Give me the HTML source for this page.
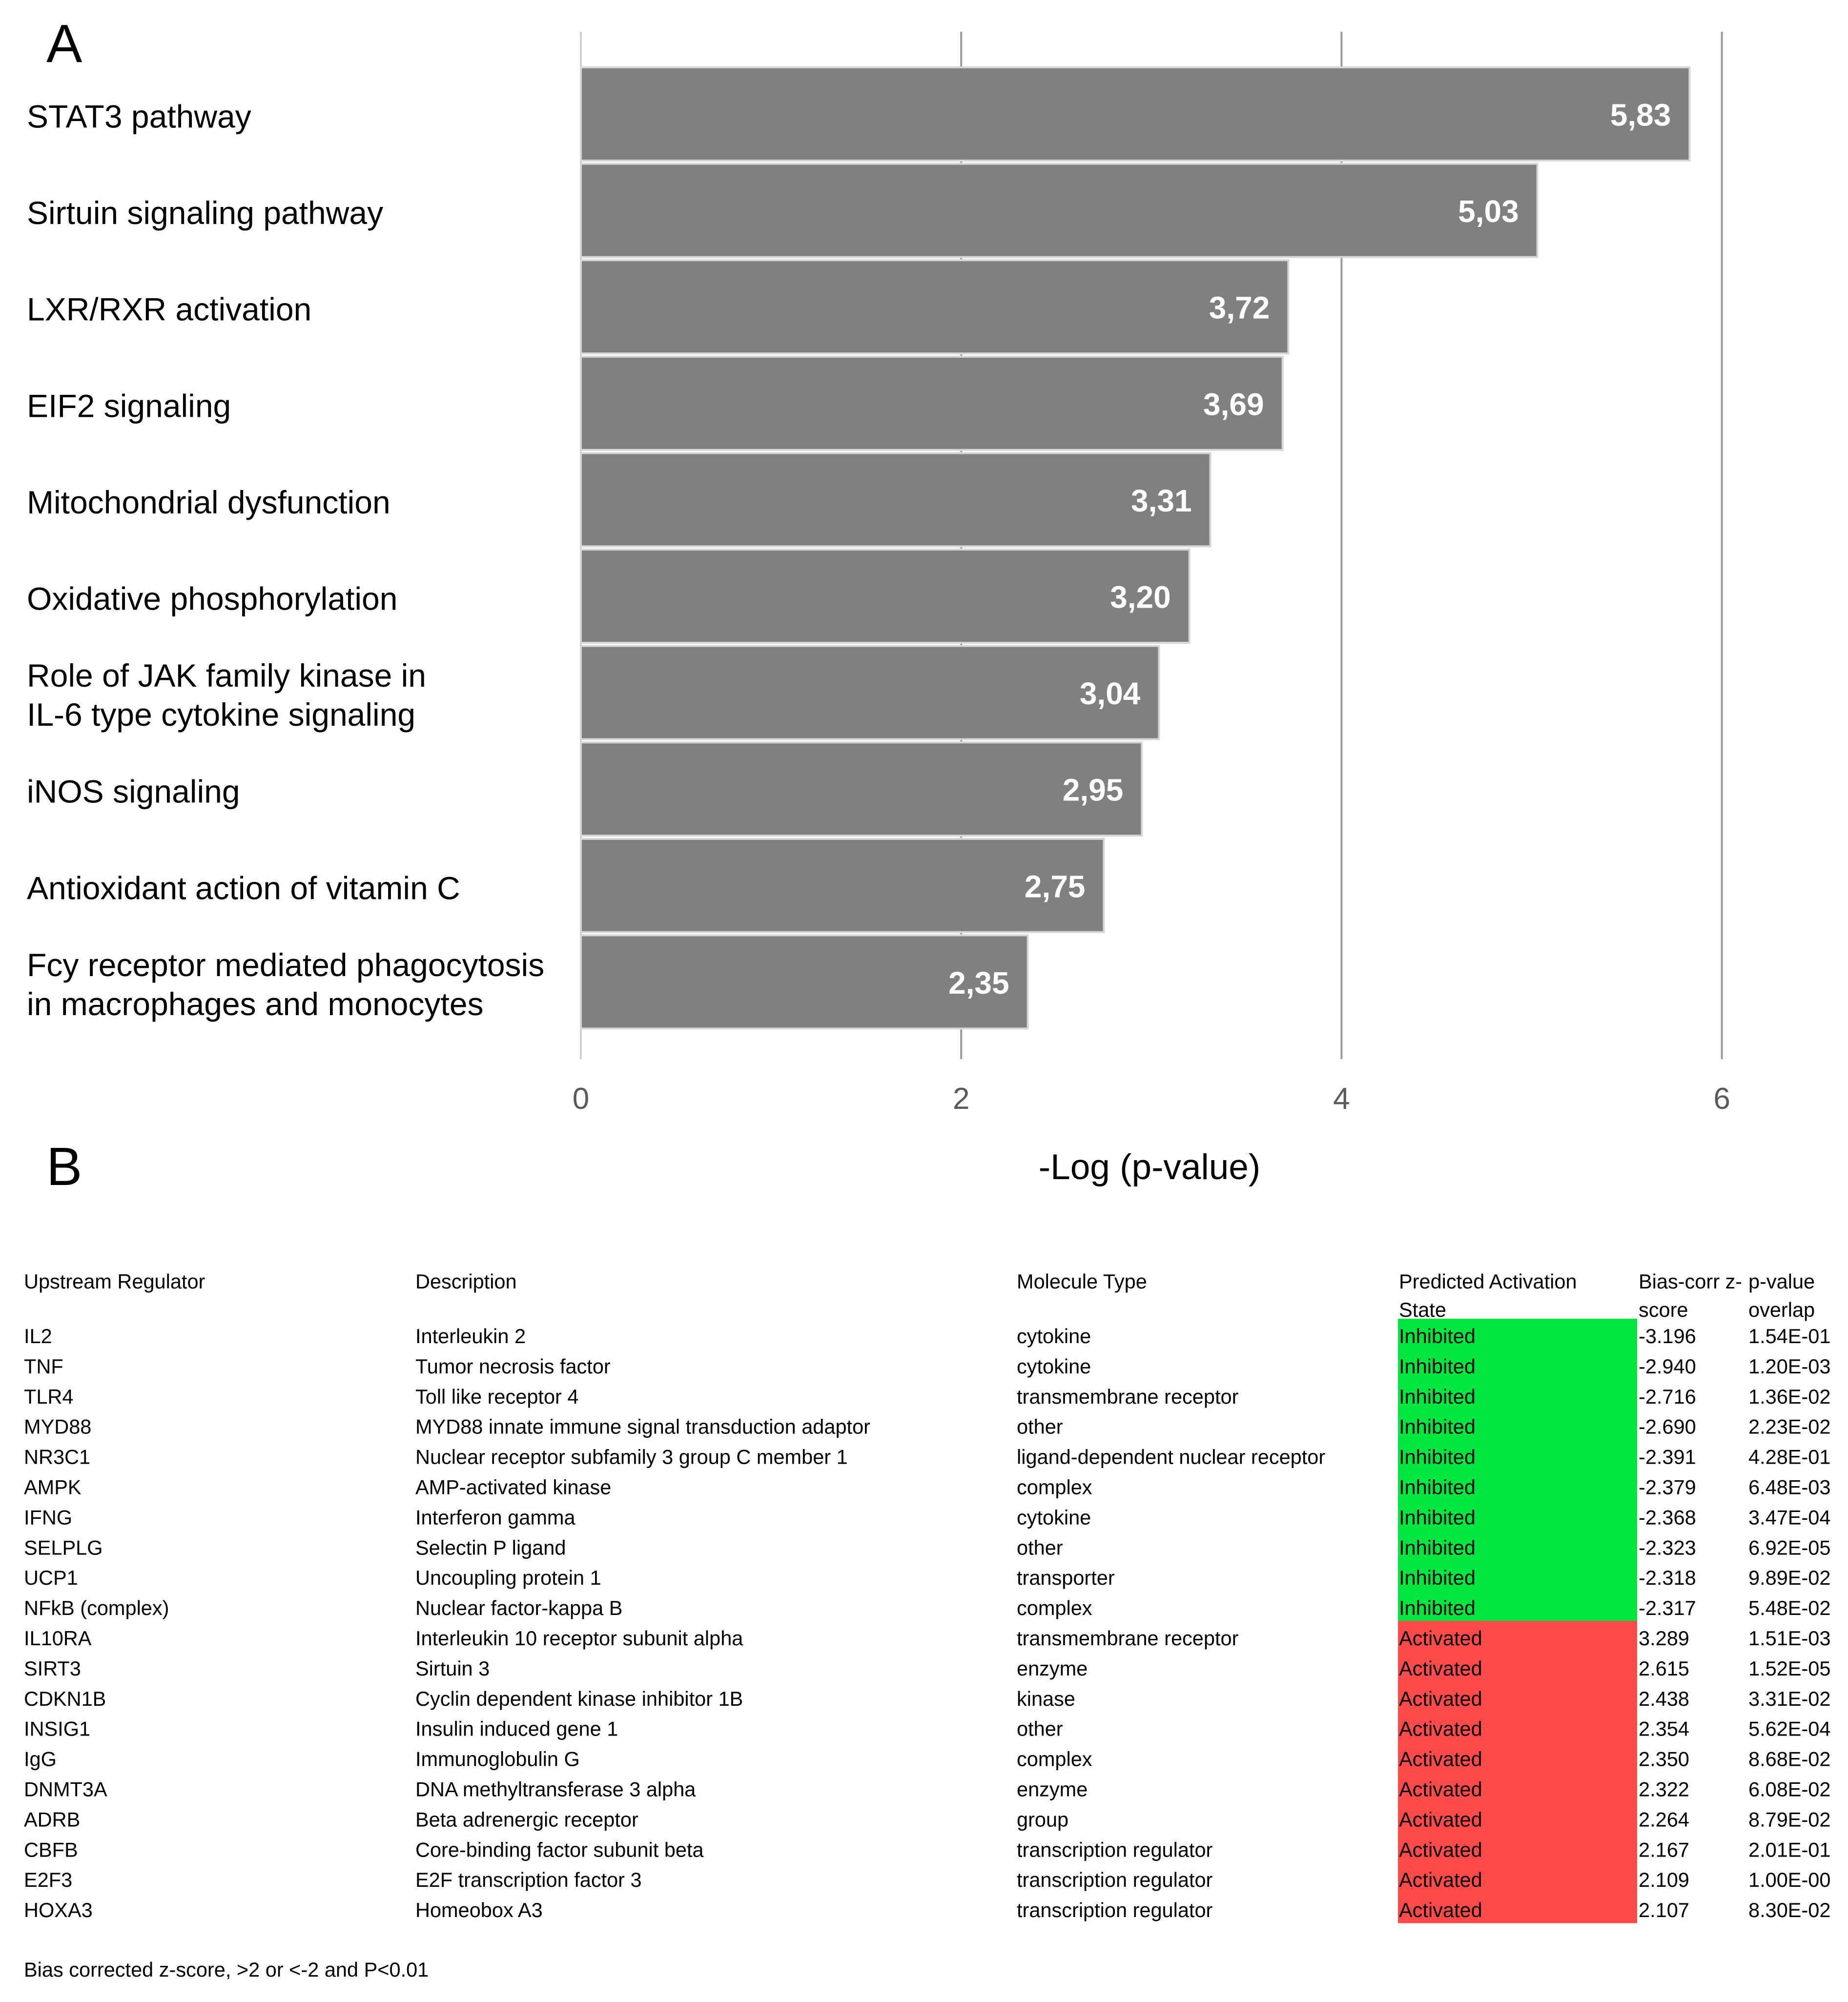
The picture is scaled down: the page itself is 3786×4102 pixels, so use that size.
<!DOCTYPE html>
<html><head><meta charset="utf-8"><style>
html,body{margin:0;padding:0;background:#fff}
body{width:3786px;height:4102px;position:relative;overflow:hidden}
svg{position:absolute;left:0;top:0}
</style></head>
<body>
<svg id="chart" width="3786" height="4102" viewBox="0 0 3786 4102" xmlns="http://www.w3.org/2000/svg">
<text x="95" y="127" font-family="Liberation Sans, sans-serif" font-size="110" fill="#000">A</text>
<text x="95" y="2428" font-family="Liberation Sans, sans-serif" font-size="110" fill="#000">B</text>
<g id="grid"></g><g id="bars"></g><g id="labels"></g><g id="ticks"></g>
<text x="2355" y="2416" text-anchor="middle" font-family="Liberation Sans, sans-serif" font-size="73" fill="#000">-Log (p-value)</text>
<g id="table"></g>
</svg>
<script>
const categories = [["STAT3 pathway"],["Sirtuin signaling pathway"],["LXR/RXR activation"],["EIF2 signaling"],["Mitochondrial dysfunction"],["Oxidative phosphorylation"],["Role of JAK family kinase in","IL-6 type cytokine signaling"],["iNOS signaling"],["Antioxidant action of vitamin C"],["Fcy receptor mediated phagocytosis","in macrophages and monocytes"]];
const values = [5.83,5.03,3.72,3.69,3.31,3.20,3.04,2.95,2.75,2.35];
const valueLabels = ["5,83","5,03","3,72","3,69","3,31","3,20","3,04","2,95","2,75","2,35"];
const tickValues = [0,2,4,6];
const tickLabels = ["0","2","4","6"];

const regulators = ["IL2","TNF","TLR4","MYD88","NR3C1","AMPK","IFNG","SELPLG","UCP1","NFkB (complex)","IL10RA","SIRT3","CDKN1B","INSIG1","IgG","DNMT3A","ADRB","CBFB","E2F3","HOXA3"];
const descriptions = ["Interleukin 2","Tumor necrosis factor","Toll like receptor 4","MYD88 innate immune signal transduction adaptor","Nuclear receptor subfamily 3 group C member 1","AMP-activated kinase","Interferon gamma","Selectin P ligand","Uncoupling protein 1","Nuclear factor-kappa B","Interleukin 10 receptor subunit alpha","Sirtuin 3","Cyclin dependent kinase inhibitor 1B","Insulin induced gene 1","Immunoglobulin G","DNA methyltransferase 3 alpha","Beta adrenergic receptor","Core-binding factor subunit beta","E2F transcription factor 3","Homeobox A3"];
const molTypes = ["cytokine","cytokine","transmembrane receptor","other","ligand-dependent nuclear receptor","complex","cytokine","other","transporter","complex","transmembrane receptor","enzyme","kinase","other","complex","enzyme","group","transcription regulator","transcription regulator","transcription regulator"];
const states = ["Inhibited","Inhibited","Inhibited","Inhibited","Inhibited","Inhibited","Inhibited","Inhibited","Inhibited","Inhibited","Activated","Activated","Activated","Activated","Activated","Activated","Activated","Activated","Activated","Activated"];
const zscores = ["-3.196","-2.940","-2.716","-2.690","-2.391","-2.379","-2.368","-2.323","-2.318","-2.317","3.289","2.615","2.438","2.354","2.350","2.322","2.264","2.167","2.109","2.107"];
const pvalues = ["1.54E-01","1.20E-03","1.36E-02","2.23E-02","4.28E-01","6.48E-03","3.47E-04","6.92E-05","9.89E-02","5.48E-02","1.51E-03","1.52E-05","3.31E-02","5.62E-04","8.68E-02","6.08E-02","8.79E-02","2.01E-01","1.00E-00","8.30E-02"];

const NS="http://www.w3.org/2000/svg";
function mk(tag, attrs, parent){const e=document.createElementNS(NS,tag);for(const k in attrs)e.setAttribute(k,attrs[k]);parent.appendChild(e);return e;}
const X0=1190, UNIT=389.6, TOP=138, STEP=197.6, BH=191;
const xs=v=>X0+v*UNIT;
const yb=i=>TOP+i*STEP;
const grid=document.getElementById('grid'), barsG=document.getElementById('bars'), labG=document.getElementById('labels'), tickG=document.getElementById('ticks');
tickValues.forEach((t,i)=>{
  const l=mk('line',{x1:xs(t),x2:xs(t),y1:65,y2:2170,stroke:i==0?'#d0d0d0':'#9a9a9a','stroke-width':4},grid);
  
  
  const tx=mk('text',{x:xs(t),y:2272,'text-anchor':'middle','font-family':'Liberation Sans, sans-serif','font-size':62,fill:'#595959'},tickG);
  tx.textContent=tickLabels[i];
  
  
});
values.forEach((v,i)=>{
  const y=yb(i);
  const r=mk('rect',{x:X0,y:y,width:xs(v)-X0,height:BH,fill:'#808080',stroke:'#d6d6d6','stroke-width':4},barsG);
  
  
  const t=mk('text',{x:xs(v)-38,y:y+BH/2+24,'text-anchor':'end','font-family':'Liberation Sans, sans-serif','font-size':64,'font-weight':'bold',fill:'#fff'},barsG);
  t.textContent=valueLabels[i];
  
  
  const lines=categories[i];
  lines.forEach((s,j)=>{
    const off=lines.length==1?28:(j==0?-12:68);
    const c=mk('text',{x:55,y:y+BH/2+off,'font-family':'Liberation Sans, sans-serif','font-size':66,fill:'#000'},labG);
    c.textContent=s;
    
    
  });
});
const tb=document.getElementById('table');
const cols=[47,849,2081,2864,3355,3580];
const FS=41.5, RT=2702, RS=61.9;
function txt(x,y,s,name){const t=mk('text',{x:x,y:y,'font-family':'Liberation Sans, sans-serif','font-size':FS,fill:'#000'},tb);t.textContent=s;return t;}
const hdr=[["Upstream Regulator"],["Description"],["Molecule Type"],["Predicted Activation","State"],["Bias-corr z-","score"],["p-value","overlap"]];
hdr.forEach((h,c)=>h.forEach((s,j)=>txt(cols[c]+2,2640+j*58,s,'column-header')));
regulators.forEach((r,i)=>{
  const top=RT+i*RS;
  const cell=mk('rect',{x:2864,y:top,width:490,height:RS+0.5,fill:states[i]=='Inhibited'?'#00e840':'#ff4a4a'},tb);
  
  
  const by=top+50;
  txt(cols[0]+2,by,r,'regulator-name');
  txt(cols[1]+2,by,descriptions[i],'description');
  txt(cols[2]+2,by,molTypes[i],'molecule-type');
  txt(cols[3]+2,by,states[i],'activation-state');
  txt(cols[4]+2,by,zscores[i],'z-score');
  txt(cols[5]+2,by,pvalues[i],'p-value');
});
txt(49,4050,'Bias corrected z-score, >2 or <-2 and P<0.01','footnote');
</script>
</body></html>
